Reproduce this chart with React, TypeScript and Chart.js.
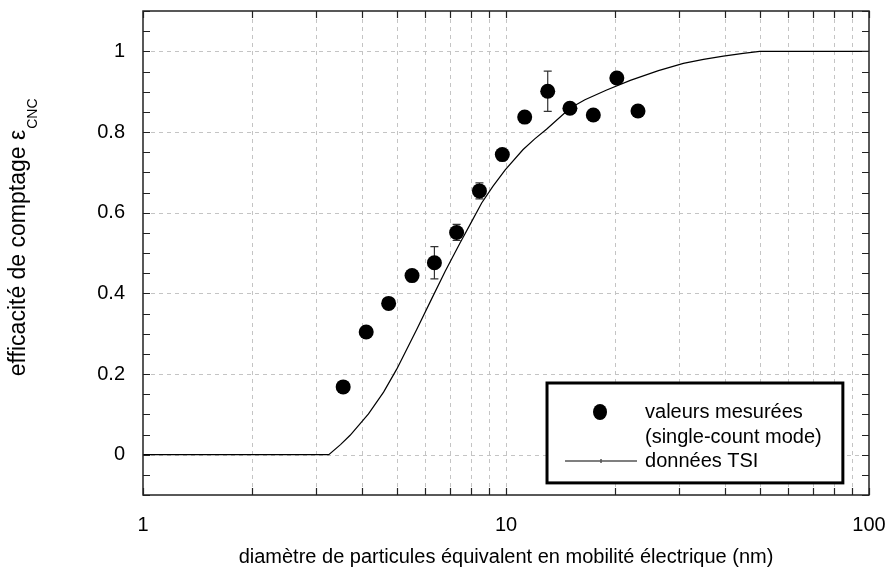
import React, { useEffect, useRef } from "react";
import { Chart, registerables } from "chart.js";

Chart.register(...registerables);

// ---- data ----
const measuredD = [3.56, 4.12, 4.75, 5.51, 6.35, 7.31, 8.45, 9.77, 11.26, 13.03, 15.0, 17.4, 20.2, 23.1];
const measuredEff = [0.168, 0.304, 0.375, 0.444, 0.476, 0.551, 0.654, 0.744, 0.837, 0.901, 0.859, 0.842, 0.934, 0.852];
const measuredErr = [0, 0, 0, 0, 0.04, 0.02, 0.02, 0, 0, 0.05, 0, 0, 0.012, 0];

const tsiD = [1, 3.25, 3.5, 3.72, 4.18, 4.6, 5.0, 5.68, 6.23, 6.8, 7.47, 8.0, 8.57, 9.2, 9.95, 11.13, 12.0, 12.93, 15.0, 16.5, 18.94, 22.0, 26.3, 30.8, 35.0, 39.7, 45.0, 50, 100];
const tsiEff = [0, 0, 0.025, 0.048, 0.101, 0.155, 0.212, 0.311, 0.385, 0.455, 0.525, 0.574, 0.624, 0.665, 0.706, 0.756, 0.783, 0.807, 0.859, 0.88, 0.904, 0.928, 0.952, 0.97, 0.98, 0.988, 0.995, 1.0, 1.0];

const xTickMarks = [1, 2, 3, 4, 5, 6, 7, 8, 9, 10, 20, 30, 40, 50, 60, 70, 80, 90, 100];
const xTickLabels = [1, 10, 100];
const yTickLabels = [0, 0.2, 0.4, 0.6, 0.8, 1];
const yMinorStep = 0.05;

const seriesMeasured = "valeurs mesurées";
const seriesMeasured2 = "(single-count mode)";
const seriesTSI = "données TSI";
const xTitle = "diamètre de particules équivalent en mobilité électrique (nm)";
const yTitle = "efficacité de comptage ε";
const yTitleSub = "CNC";

const FONT = "'Liberation Sans', Arial, Helvetica, sans-serif";

const drawPlugin = {
  id: "customDraw",
  beforeDatasetsDraw(chart: any) {
    const { ctx, chartArea: a, scales } = chart;
    const xs = scales.x;
    const ys = scales.y;
    ctx.save();
    ctx.strokeStyle = "#c4c4c4";
    ctx.lineWidth = 1;
    ctx.setLineDash([4, 4]);
    for (const v of xTickMarks) {
      if (v === 1 || v === 100) continue;
      const px = Math.round(xs.getPixelForValue(v)) + 0.5;
      ctx.beginPath();
      ctx.moveTo(px, a.top);
      ctx.lineTo(px, a.bottom);
      ctx.stroke();
    }
    for (const v of yTickLabels) {
      const py = Math.round(ys.getPixelForValue(v)) + 0.5;
      ctx.beginPath();
      ctx.moveTo(a.left, py);
      ctx.lineTo(a.right, py);
      ctx.stroke();
    }
    ctx.setLineDash([]);
    // error bars
    ctx.strokeStyle = "#333";
    ctx.lineWidth = 1.2;
    measuredD.forEach((d, i) => {
      const e = measuredErr[i];
      if (!e) return;
      const px = xs.getPixelForValue(d);
      const yHi = ys.getPixelForValue(measuredEff[i] + e);
      const yLo = ys.getPixelForValue(measuredEff[i] - e);
      ctx.beginPath();
      ctx.moveTo(px, yHi);
      ctx.lineTo(px, yLo);
      ctx.moveTo(px - 4, yHi);
      ctx.lineTo(px + 4, yHi);
      ctx.moveTo(px - 4, yLo);
      ctx.lineTo(px + 4, yLo);
      ctx.stroke();
    });
    ctx.restore();
  },
  afterDraw(chart: any) {
    const { ctx, chartArea: a, scales } = chart;
    const xs = scales.x;
    const ys = scales.y;
    ctx.save();
    // frame
    ctx.strokeStyle = "#222";
    ctx.lineWidth = 1.5;
    ctx.strokeRect(a.left, a.top, a.right - a.left, a.bottom - a.top);
    // inward ticks
    ctx.lineWidth = 1.2;
    ctx.beginPath();
    const tl = 7;
    for (const v of xTickMarks) {
      const px = Math.round(xs.getPixelForValue(v)) + 0.5;
      ctx.moveTo(px, a.bottom);
      ctx.lineTo(px, a.bottom - tl);
      ctx.moveTo(px, a.top);
      ctx.lineTo(px, a.top + tl);
    }
    for (let k = Math.ceil(ys.min / yMinorStep - 1e-6); k * yMinorStep <= ys.max + 1e-9; k++) {
      const py = Math.round(ys.getPixelForValue(k * yMinorStep)) + 0.5;
      ctx.moveTo(a.left, py);
      ctx.lineTo(a.left + tl, py);
      ctx.moveTo(a.right, py);
      ctx.lineTo(a.right - tl, py);
    }
    ctx.stroke();

    // axis titles
    ctx.fillStyle = "#000";
    ctx.font = `20px ${FONT}`;
    ctx.textAlign = "center";
    ctx.textBaseline = "middle";
    ctx.fillText(xTitle, (a.left + a.right) / 2, 557);

    ctx.save();
    ctx.translate(25, (a.top + a.bottom) / 2);
    ctx.rotate(-Math.PI / 2);
    ctx.font = `23px ${FONT}`;
    ctx.textAlign = "left";
    ctx.textBaseline = "alphabetic";
    const w = ctx.measureText(yTitle).width;
    ctx.fillText(yTitle, -w / 2, 0);
    ctx.font = `14px ${FONT}`;
    ctx.fillText(yTitleSub, w / 2 + 1, 12);
    ctx.restore();

    // legend box (placed relative to plot area)
    const W = a.right - a.left;
    const H = a.bottom - a.top;
    const bl = a.left + 0.5565 * W;
    const br = a.left + 0.964 * W;
    const bt = a.top + 0.7686 * H;
    const bb = a.top + 0.975 * H;
    ctx.fillStyle = "#fff";
    ctx.fillRect(bl, bt, br - bl, bb - bt);
    ctx.strokeStyle = "#000";
    ctx.lineWidth = 3;
    ctx.strokeRect(bl, bt, br - bl, bb - bt);

    const symX = bl + 53;
    const textX = bl + 98;
    ctx.fillStyle = "#000";
    ctx.beginPath();
    ctx.ellipse(symX, bt + 29, 7, 8, 0, 0, Math.PI * 2);
    ctx.fill();
    ctx.font = `20px ${FONT}`;
    ctx.textAlign = "left";
    ctx.textBaseline = "middle";
    ctx.fillText(seriesMeasured, textX, bt + 29);
    ctx.fillText(seriesMeasured2, textX, bt + 54);
    ctx.fillText(seriesTSI, textX, bt + 78);
    ctx.strokeStyle = "#555";
    ctx.lineWidth = 1.5;
    ctx.beginPath();
    ctx.moveTo(bl + 18, bt + 78);
    ctx.lineTo(bl + 90, bt + 78);
    ctx.moveTo(bl + 54, bt + 76);
    ctx.lineTo(bl + 54, bt + 80);
    ctx.stroke();
    ctx.restore();
  },
};

export default function App() {
  const ref = useRef<HTMLCanvasElement | null>(null);
  useEffect(() => {
    if (!ref.current) return;
    const chart = new Chart(ref.current, {
      type: "scatter",
      data: {
        datasets: [
          {
            label: seriesMeasured,
            data: measuredD.map((x, i) => ({ x, y: measuredEff[i] })),
            pointStyle: "circle",
            pointRadius: 7.5,
            pointHoverRadius: 7.5,
            backgroundColor: "#000",
            borderColor: "#000",
            borderWidth: 0,
            showLine: false,
          },
          {
            label: seriesTSI,
            data: tsiD.map((x, i) => ({ x, y: tsiEff[i] })),
            showLine: true,
            pointRadius: 0,
            borderColor: "#000",
            borderWidth: 1.2,
            tension: 0,
          },
        ],
      },
      options: {
        responsive: false,
        animation: false,
        events: [],
        layout: { padding: { top: 11, right: 20, left: 0, bottom: 0 } },
        plugins: { legend: { display: false }, tooltip: { enabled: false } },
        scales: {
          x: {
            type: "logarithmic",
            min: 1,
            max: 100,
            afterBuildTicks: (s: any) => {
              s.ticks = xTickMarks.map((v) => ({ value: v }));
            },
            afterFit: (s: any) => {
              s.height = 79;
              s.paddingLeft = 0;
              s.paddingRight = 0;
            },
            grid: { display: false, drawTicks: false },
            border: { display: false },
            ticks: {
              autoSkip: false,
              maxRotation: 0,
              padding: 18,
              color: "#000",
              font: { family: FONT, size: 20 },
              callback: (v: any) => (xTickLabels.includes(Number(v)) ? String(v) : ""),
            },
          },
          y: {
            type: "linear",
            min: -0.1,
            max: 1.1,
            afterBuildTicks: (s: any) => {
              s.ticks = yTickLabels.map((v) => ({ value: v }));
            },
            afterFit: (s: any) => {
              s.width = 143;
              s.paddingTop = 0;
              s.paddingBottom = 0;
            },
            grid: { display: false, drawTicks: false },
            border: { display: false },
            ticks: {
              padding: 18,
              color: "#000",
              font: { family: FONT, size: 20 },
              callback: (v: any) => String(v),
            },
          },
        },
      },
      plugins: [drawPlugin],
    });
    return () => chart.destroy();
  }, []);
  return (
    <div style={{ position: "absolute", left: 0, top: 0, width: 889, height: 574, background: "#fff" }}>
      <canvas ref={ref} width={889} height={574} style={{ display: "block" }} />
    </div>
  );
}
